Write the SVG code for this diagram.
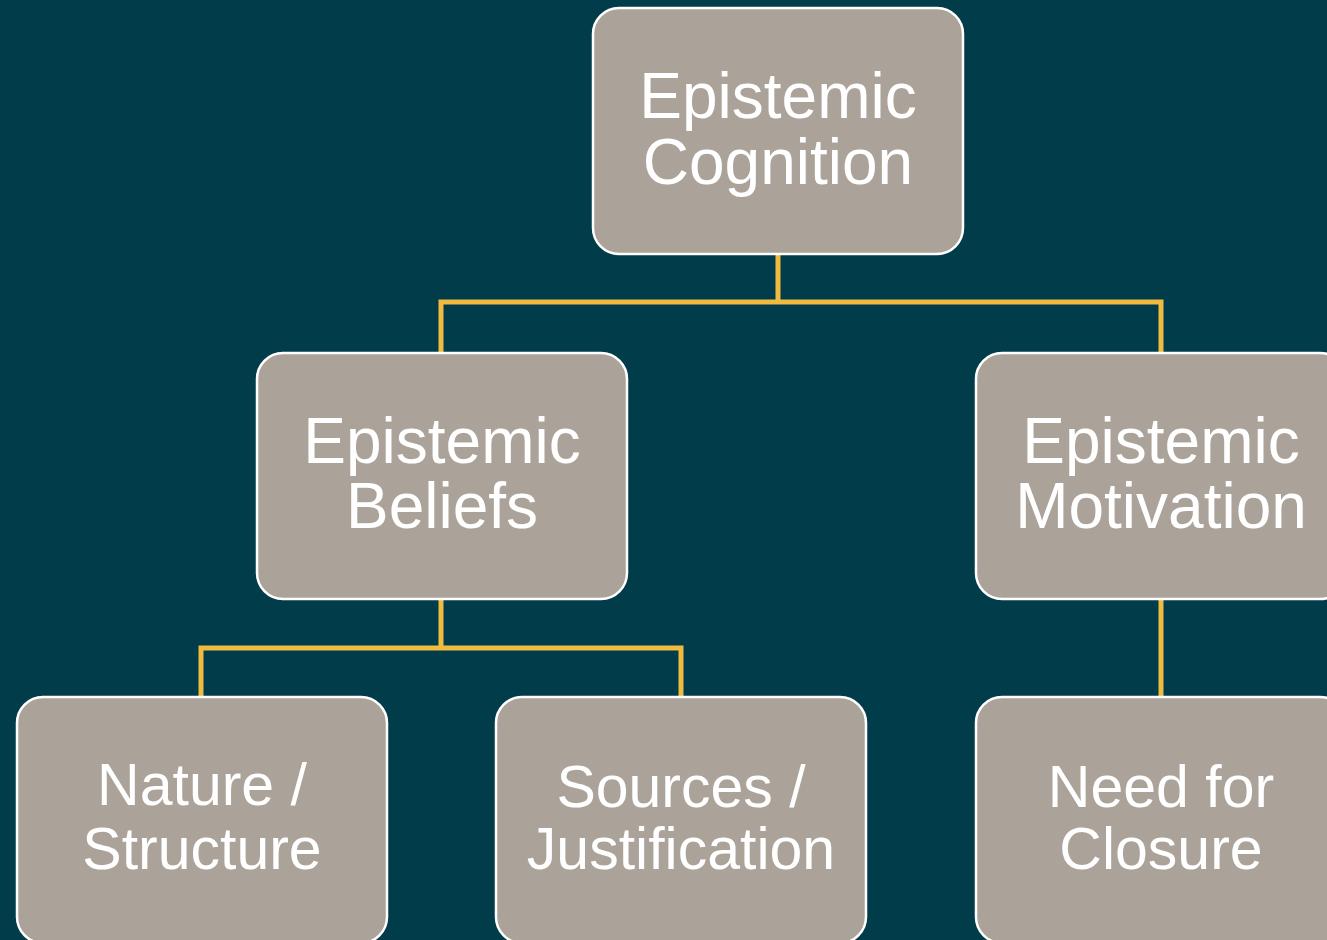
<svg xmlns="http://www.w3.org/2000/svg" width="1327" height="940" viewBox="0 0 1327 940">
<style>
.box{fill:#aba39a;stroke:#ffffff;stroke-width:2.5}
.lbl{fill:#ffffff;font-family:"Liberation Sans",Arial,sans-serif;font-size:64px;text-anchor:middle}
.sm{font-size:59px}
.conn{fill:none;stroke:#f0bb3e;stroke-width:5;stroke-linecap:square}
</style>
<rect width="1327" height="940" fill="#013c4b"/>
<g id="connectors">
<path class="conn" d="M778 256 V302 M441 302 H1161 M441 350 V302 M1161 350 V302"/>
<path class="conn" d="M441 601 V648 M201 648 H681 M201 694 V648 M681 694 V648"/>
<path class="conn" d="M1161 601 V694"/>
</g>
<g id="n-cognition">
<rect class="box" x="593" y="8" width="370" height="246" rx="26"/>
<text class="lbl" x="778" y="118">Epistemic</text>
<text class="lbl" x="778" y="184">Cognition</text>
</g>
<g id="n-beliefs">
<rect class="box" x="257" y="353" width="370" height="246" rx="26"/>
<text class="lbl" x="442" y="463">Epistemic</text>
<text class="lbl" x="442" y="528">Beliefs</text>
</g>
<g id="n-motivation">
<rect class="box" x="976" y="353" width="370" height="246" rx="26"/>
<text class="lbl" x="1161" y="463">Epistemic</text>
<text class="lbl" x="1161" y="528">Motivation</text>
</g>
<g id="n-nature">
<rect class="box" x="17" y="697" width="370" height="246" rx="26"/>
<text class="lbl sm" x="202" y="805">Nature /</text>
<text class="lbl sm" x="202" y="869">Structure</text>
</g>
<g id="n-sources">
<rect class="box" x="496" y="697" width="370" height="246" rx="26"/>
<text class="lbl sm" x="681" y="807">Sources /</text>
<text class="lbl sm" x="681" y="869">Justification</text>
</g>
<g id="n-closure">
<rect class="box" x="976" y="697" width="370" height="246" rx="26"/>
<text class="lbl sm" x="1161" y="807">Need for</text>
<text class="lbl sm" x="1161" y="869">Closure</text>
</g>
</svg>
